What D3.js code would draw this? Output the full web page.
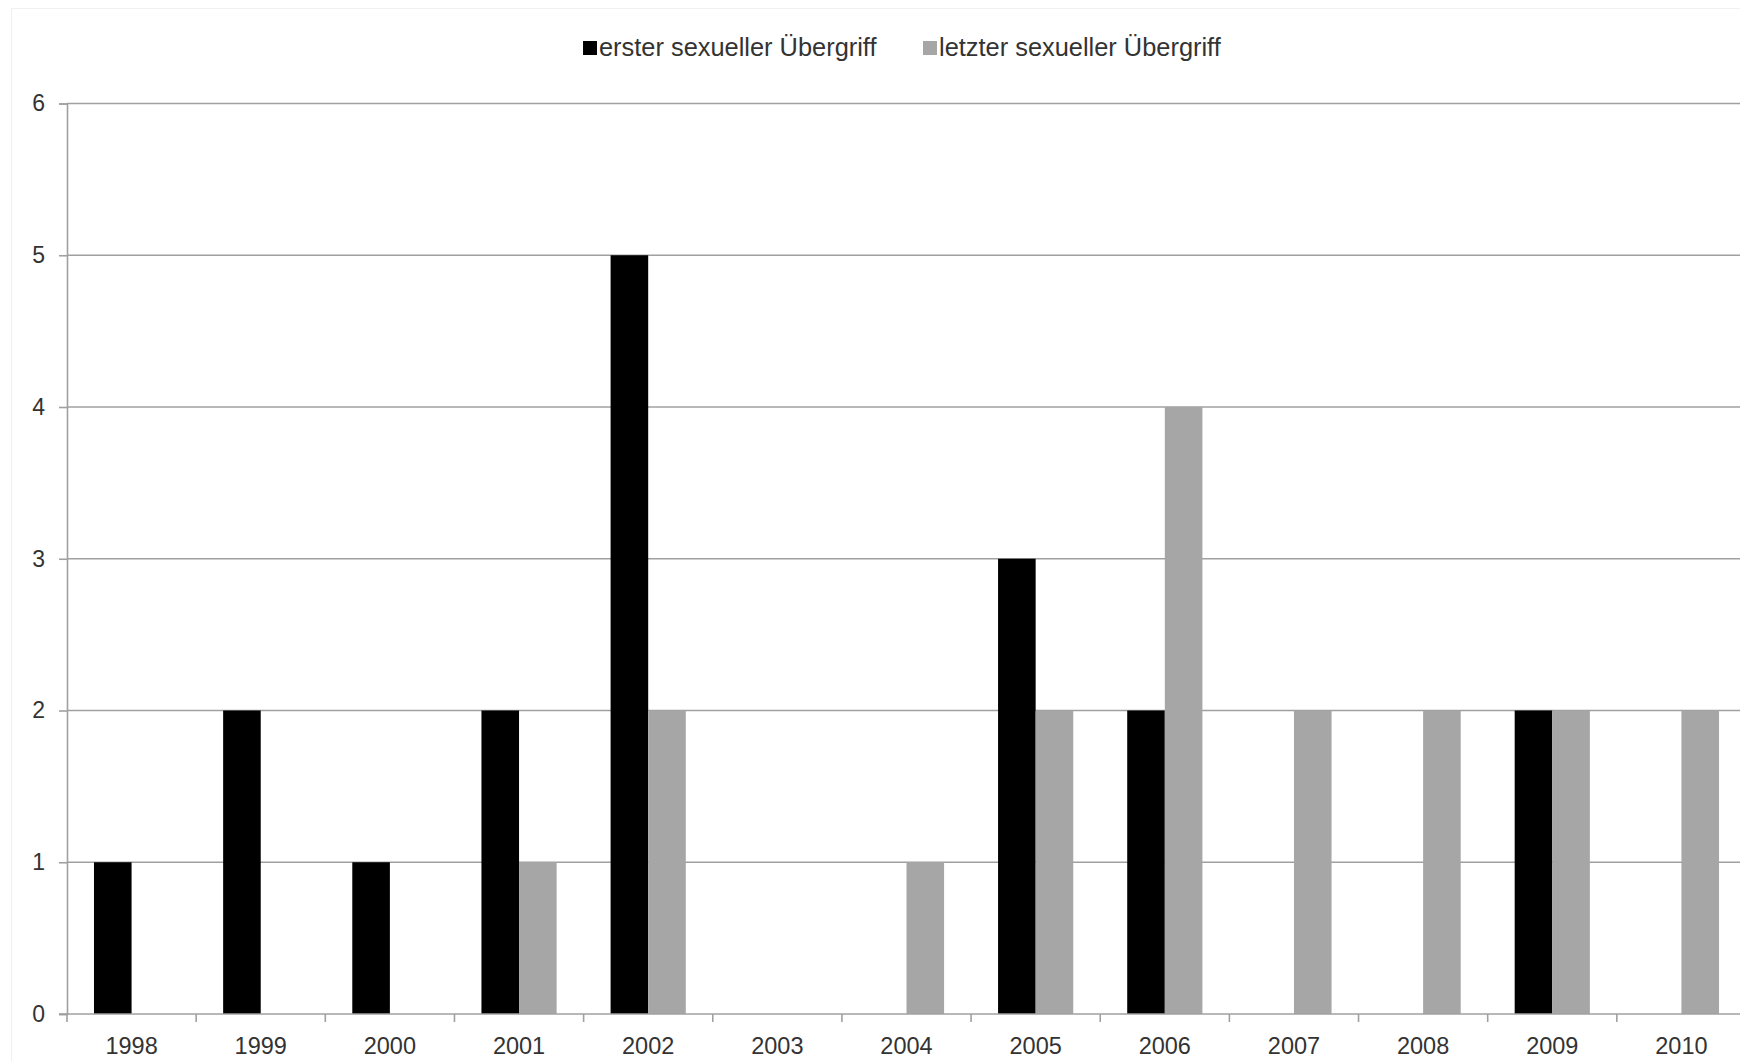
<!DOCTYPE html>
<html>
<head>
<meta charset="utf-8">
<script src="https://cdn.jsdelivr.net/npm/d3@7"></script>
<style>
  html, body { margin: 0; padding: 0; background: #fff; }
  svg { display: block; }
  text { font-family: "Liberation Sans", Arial, sans-serif; fill: #333; }
</style>
</head>
<body>
<svg id="chart" width="1740" height="1061"></svg>
<script>
// Years on the category axis
const years = ["1998","1999","2000","2001","2002","2003","2004","2005","2006","2007","2008","2009","2010"];
// Counts per year
const ersterValues  = [1, 2, 1, 2, 5, 0, 0, 3, 2, 0, 0, 2, 0];
const letzterValues = [0, 0, 0, 1, 2, 0, 1, 2, 4, 2, 2, 2, 2];
const seriesNames = ["erster sexueller Übergriff", "letzter sexueller Übergriff"];
const seriesColors = ["#000000", "#a6a6a6"];
const yTicks = [0, 1, 2, 3, 4, 5, 6];

const svg = d3.select("#chart");
const W = 1740, H = 1061;
const plot = { left: 67, right: 1746, top: 103.5, bottom: 1014 };

// faint outer frame of the chart area
svg.append("rect")
  .attr("x", 11.5).attr("y", 8.5)
  .attr("width", W).attr("height", H)
  .attr("fill", "none").attr("stroke", "#f0f0f0").attr("stroke-width", 1);

const x = d3.scaleBand().domain(years).range([plot.left, plot.right]).paddingInner(0).paddingOuter(0);
const inner = d3.scaleBand().domain([0, 1]).range([0, x.bandwidth()]).paddingInner(0).paddingOuter(0.7177);
const y = d3.scaleLinear().domain([0, 6]).range([plot.bottom, plot.top]);

// horizontal gridlines
svg.append("g")
  .selectAll("line")
  .data(yTicks.filter(d => d > 0))
  .join("line")
  .attr("x1", plot.left).attr("x2", plot.right)
  .attr("y1", d => y(d)).attr("y2", d => y(d))
  .attr("stroke", "#a0a0a0").attr("stroke-width", 1.6);

// bars
const rows = years.map((yr, i) => ({ yr, vals: [ersterValues[i], letzterValues[i]] }));
const groups = svg.append("g").selectAll("g")
  .data(rows)
  .join("g")
  .attr("transform", d => `translate(${x(d.yr)},0)`);
groups.selectAll("rect")
  .data(d => d.vals.map((v, k) => ({ v, k })).filter(e => e.v > 0))
  .join("rect")
  .attr("x", e => inner(e.k))
  .attr("width", inner.bandwidth())
  .attr("y", e => y(e.v))
  .attr("height", e => y(0) - y(e.v))
  .attr("fill", e => seriesColors[e.k]);

// y axis
const yAxis = d3.axisLeft(y).tickValues(yTicks).tickSize(8).tickPadding(14).tickFormat(d3.format("d"));
const gy = svg.append("g").attr("transform", `translate(${plot.left},0)`).call(yAxis);
gy.select(".domain").attr("stroke", "#a0a0a0").attr("stroke-width", 1.6);
gy.selectAll(".tick line").attr("stroke", "#a0a0a0").attr("stroke-width", 1.6);
gy.selectAll(".tick text")
  .attr("font-size", 23).attr("fill", "#333")
  .style("font-family", '"Liberation Sans", Arial, sans-serif');

// x axis with ticks at category boundaries
const gx = svg.append("g").attr("transform", `translate(0,${plot.bottom})`);
gx.append("line")
  .attr("x1", plot.left - 8).attr("x2", plot.right)
  .attr("y1", 0).attr("y2", 0)
  .attr("stroke", "#a0a0a0").attr("stroke-width", 1.6);
gx.selectAll("line.tk")
  .data(years.concat(["end"]))
  .join("line")
  .attr("class", "tk")
  .attr("x1", (d, i) => plot.left + i * x.step())
  .attr("x2", (d, i) => plot.left + i * x.step())
  .attr("y1", 0).attr("y2", 8)
  .attr("stroke", "#a0a0a0").attr("stroke-width", 1.6);
gx.selectAll("text")
  .data(years)
  .join("text")
  .attr("x", d => x(d) + x.bandwidth() / 2)
  .attr("y", 40)
  .attr("text-anchor", "middle")
  .attr("font-size", 23.5)
  .text(d => d);

// legend
const legendItems = [
  { name: seriesNames[0], color: seriesColors[0], x: 583 },
  { name: seriesNames[1], color: seriesColors[1], x: 923 }
];
const lg = svg.append("g").selectAll("g")
  .data(legendItems)
  .join("g")
  .attr("transform", d => `translate(${d.x},41)`);
lg.append("rect").attr("width", 14).attr("height", 14).attr("fill", d => d.color);
lg.append("text")
  .attr("x", 16).attr("y", 14.5)
  .attr("font-size", 25.4)
  .text(d => d.name);
</script>
</body>
</html>
